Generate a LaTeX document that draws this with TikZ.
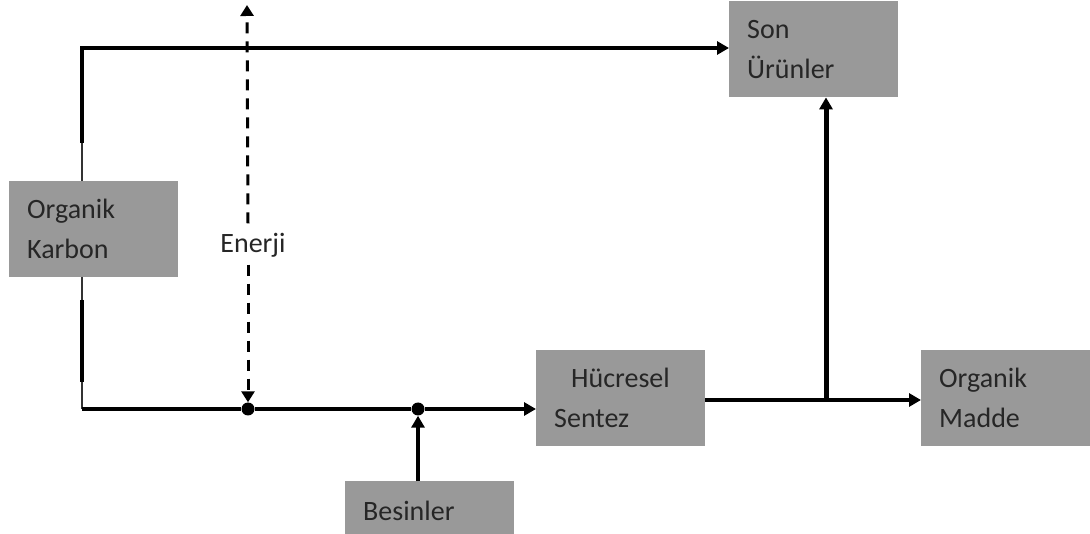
\documentclass[tikz,border=0pt]{standalone}
\usepackage{fontspec}
\setmainfont{Carlito}
\usetikzlibrary{arrows.meta}
\definecolor{boxgray}{HTML}{999999}
\definecolor{txtgray}{HTML}{262626}
\tikzset{
  box/.style={fill=boxgray, draw=none, minimum width=169pt, minimum height=96pt,
    inner xsep=18pt, inner ysep=0pt, text width=133pt, align=left, anchor=north west,
    text=txtgray, font=\fontsize{28}{40}\selectfont},
  flow/.style={line width=4.5pt, -{Triangle[length=12pt,width=13pt]}},
  plainline/.style={line width=4.5pt},
  thinline/.style={line width=2.5pt, draw=black!80},
  energy/.style={line width=3pt, dash pattern=on 11pt off 8pt},
  dot/.style={circle, fill=black, inner sep=0pt, minimum size=13pt},
  lbl/.style={text=txtgray, font=\fontsize{28}{40}\selectfont}
}
\begin{document}
\begin{tikzpicture}[x=1pt,y=-1pt]
\useasboundingbox (0,0) rectangle (1090,534);
\node[box] (ok) at (9,181) {Organik\\Karbon};
\node[box] (son) at (729,1) {Son\\Ürünler};
\node[box] (hs) at (536,350) {\hspace*{17pt}Hücresel\\Sentez};
\node[box] (om) at (921,350) {Organik\\Madde};
\node[box, minimum height=60pt] (bes) at (345,481) {Besinler};
\node[lbl] (en) at (253,245) {Enerji};

\coordinate (tl) at (82,48);
\coordinate (bl) at (82,409);
\coordinate (okt) at (82,181);
\coordinate (okb) at (82,277);
\node[dot] (d1) at (248,409) {};
\node[dot] (d2) at (418,409) {};
\coordinate (br) at (826,400);
\coordinate (etop) at (247,5);

% Organik Karbon to Son Ürünler
\draw[thinline] (okt) -- (tl);
\draw[plainline] (82,143) -- (tl) -- (tl -| 90,0);
\draw[flow] (tl) -- (son.west |- tl);
% Organik Karbon to Hücresel Sentez
\draw[thinline] (okb) -- (bl);
\draw[plainline] (82,300) -- (82,382);
\draw[flow] (bl) -- (d1) -- (d2) -- (hs.west |- bl);
% Besinler
\draw[flow] (bes.north -| d2) -- (d2.south);
% Energy
\draw[energy, -{Triangle[length=11pt,width=13pt]}] (en.north -| d1) ++(0,-6) -- (etop);
\draw[energy, -{Triangle[length=11pt,width=13pt]}] (en.south -| d1) ++(0,4) -- (d1.north);
% Hücresel Sentez outputs
\draw[flow] (hs.east |- br) -- (om.west |- br);
\draw[flow, line width=5pt] (br) -- (son.south -| br);
\end{tikzpicture}
\end{document}
